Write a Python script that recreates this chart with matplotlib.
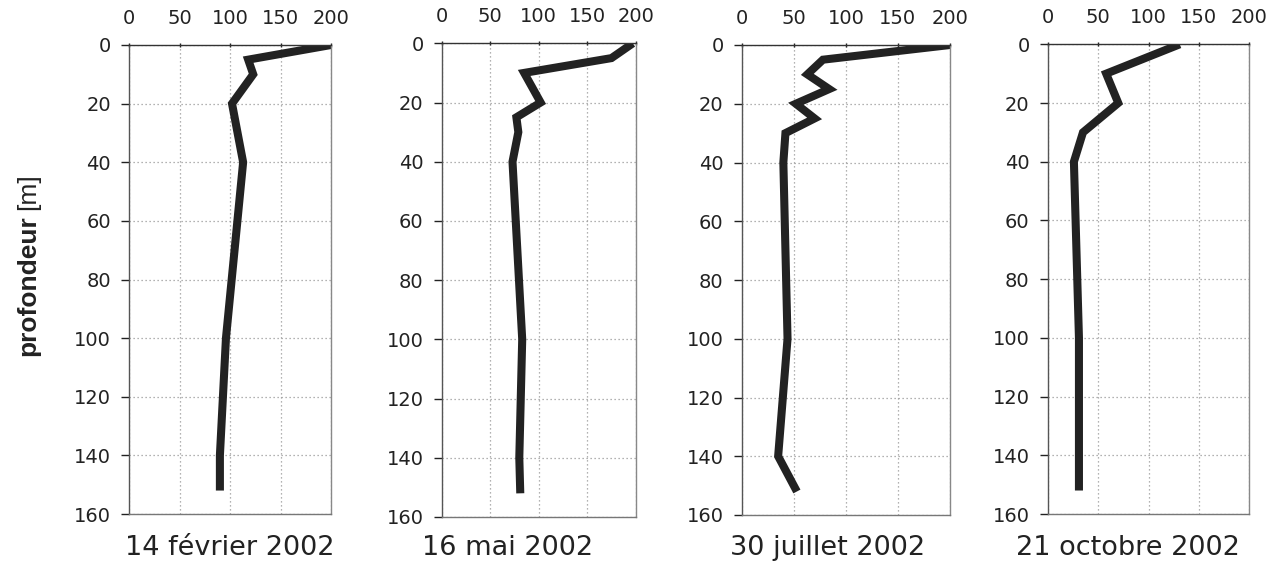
import matplotlib
matplotlib.use("Agg")
import matplotlib.pyplot as plt

# ---- data ----
titles = ["14 février 2002", "16 mai 2002", "30 juillet 2002", "21 octobre 2002"]
depth_feb = [0, 5, 10, 20, 40, 100, 140, 152]
val_feb = [200, 118, 123, 102, 113, 96, 90, 90]
depth_mai = [0, 5, 10, 20, 25, 30, 40, 100, 140, 152]
val_mai = [197, 175, 85, 102, 77, 79, 73, 83, 80, 81]
depth_jul = [0, 5, 10, 15, 20, 25, 30, 40, 100, 140, 152]
val_jul = [200, 78, 63, 84, 52, 70, 42, 40, 44, 35, 53]
depth_oct = [0, 10, 20, 30, 40, 100, 140, 152]
val_oct = [131, 58, 70, 35, 26, 31, 31, 31]
xticks = [0, 50, 100, 150, 200]
yticks = [0, 20, 40, 60, 80, 100, 120, 140, 160]

series = [(depth_feb, val_feb), (depth_mai, val_mai), (depth_jul, val_jul), (depth_oct, val_oct)]

W, H = 1267, 567
fig = plt.figure(figsize=(W / 100, H / 100), dpi=100)

# axes boxes in pixels: left, right, top, bottom
boxes = [(129, 331, 45, 514), (441.7, 635.7, 43.3, 517), (741.7, 950, 45, 515), (1047.7, 1249.3, 44.3, 514)]
title_x = [230, 508, 828, 1128]

for (d, v), (l, r, t, b), ttl, tx in zip(series, boxes, titles, title_x):
    ax = fig.add_axes([l / W, 1 - b / H, (r - l) / W, (b - t) / H])
    ax.plot(v, d, color="#222222", lw=5.8, solid_joinstyle="miter", solid_capstyle="butt")
    ax.set_xlim(0, 200)
    ax.set_ylim(160, 0)
    ax.set_xticks(xticks)
    ax.set_yticks(yticks)
    ax.xaxis.tick_top()
    ax.tick_params(axis="x", top=True, bottom=False, length=3, width=1, direction="inout",
                   pad=11, labelsize=14, colors="#222222")
    ax.tick_params(axis="y", left=True, right=False, length=6, width=1, direction="out",
                   pad=7, labelsize=14, colors="#222222")
    for lab in ax.get_xticklabels() + ax.get_yticklabels():
        lab.set_family("DejaVu Sans")
    ax.grid(True, color="#999999", linestyle=(0, (1, 2.2)), linewidth=0.9)
    ax.spines["top"].set_color("#333333")
    ax.spines["left"].set_color("#555555")
    ax.spines["right"].set_color("#888888")
    ax.spines["bottom"].set_color("#777777")
    for s in ax.spines.values():
        s.set_linewidth(1.0)
    fig.text(tx / W, 1 - 548 / H, ttl, ha="center", va="center", fontsize=19.5,
             family="DejaVu Sans", color="#222222")

fig.text(28 / W, 1 - 286 / H, "profondeur", rotation=90, ha="center", va="center",
         fontsize=19, fontweight="bold", family="Liberation Sans", color="#222222")
fig.text(28 / W, 1 - 192 / H, "[m]", rotation=90, ha="center", va="center",
         fontsize=19, family="Liberation Sans", color="#222222")

fig.savefig("out.png", dpi=100)
